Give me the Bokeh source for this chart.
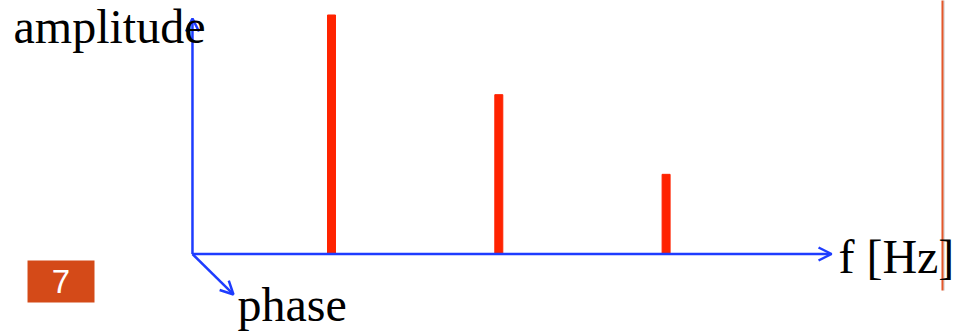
from bokeh.plotting import figure
from bokeh.models import Range1d, Arrow, OpenHead, Label
from bokeh.embed import file_html
from bokeh.resources import INLINE

# Data: spectral lines
freqs = [1, 2, 3]
amps = [3, 2, 1]

RED = "#FF2300"
BLUE = "#1E3CFF"
ORANGE_BOX = "#D44A18"
ORANGE_LINE = "#E4572A"

p = figure(width=957, height=334, output_backend="svg", toolbar_location=None,
           x_range=Range1d(-0.9785, 4.7418), y_range=Range1d(-1.0104, 3.1819),
           min_border=0, background_fill_color="white", border_fill_color="white")
p.axis.visible = False
p.grid.visible = False
p.outline_line_color = None

# spectral lines
p.vbar(x=freqs, top=amps, bottom=0, width=0.0478, color=RED)

# axes with arrows
ox, oy = 0.169, 0.0
def arrow(x1, y1):
    p.add_layout(Arrow(end=OpenHead(size=13, line_color=BLUE, line_width=2.5),
                       x_start=ox, y_start=oy, x_end=x1, y_end=y1,
                       line_color=BLUE, line_width=2.5))
arrow(3.989, 0.0)
arrow(ox, 2.956)
arrow(0.414, -0.508)

# right edge slide line with faint shadow
p.segment(x0=[4.660], y0=[3.3], x1=[4.660], y1=[-0.458], line_color="#999999",
          line_alpha=0.35, line_width=2)
p.segment(x0=[4.652], y0=[3.3], x1=[4.652], y1=[-0.458], line_color=ORANGE_LINE,
          line_width=2)

# page number box
p.quad(left=[-0.817], right=[-0.4166], top=[-0.0816], bottom=[-0.6088],
       fill_color=ORANGE_BOX, line_color=None)
p.add_layout(Label(x=-0.617, y=-0.345, text="7", text_color="white",
                   text_font="Liberation Sans", text_font_size="33px",
                   text_align="center", text_baseline="middle"))

serif = "Liberation Serif"
p.add_layout(Label(x=-0.9008, y=2.855, text="amplitude", text_font=serif,
                   text_font_size="48px", text_color="black", text_baseline="alphabetic"))
p.add_layout(Label(x=0.438, y=-0.635, text="phase", text_font=serif,
                   text_font_size="48px", text_color="black", text_baseline="alphabetic"))
p.add_layout(Label(x=4.030, y=-0.032, text="f [Hz]", text_font=serif,
                   text_font_size="48px", text_color="black", text_baseline="alphabetic"))

open("out.html", "w").write(file_html(p, INLINE))
